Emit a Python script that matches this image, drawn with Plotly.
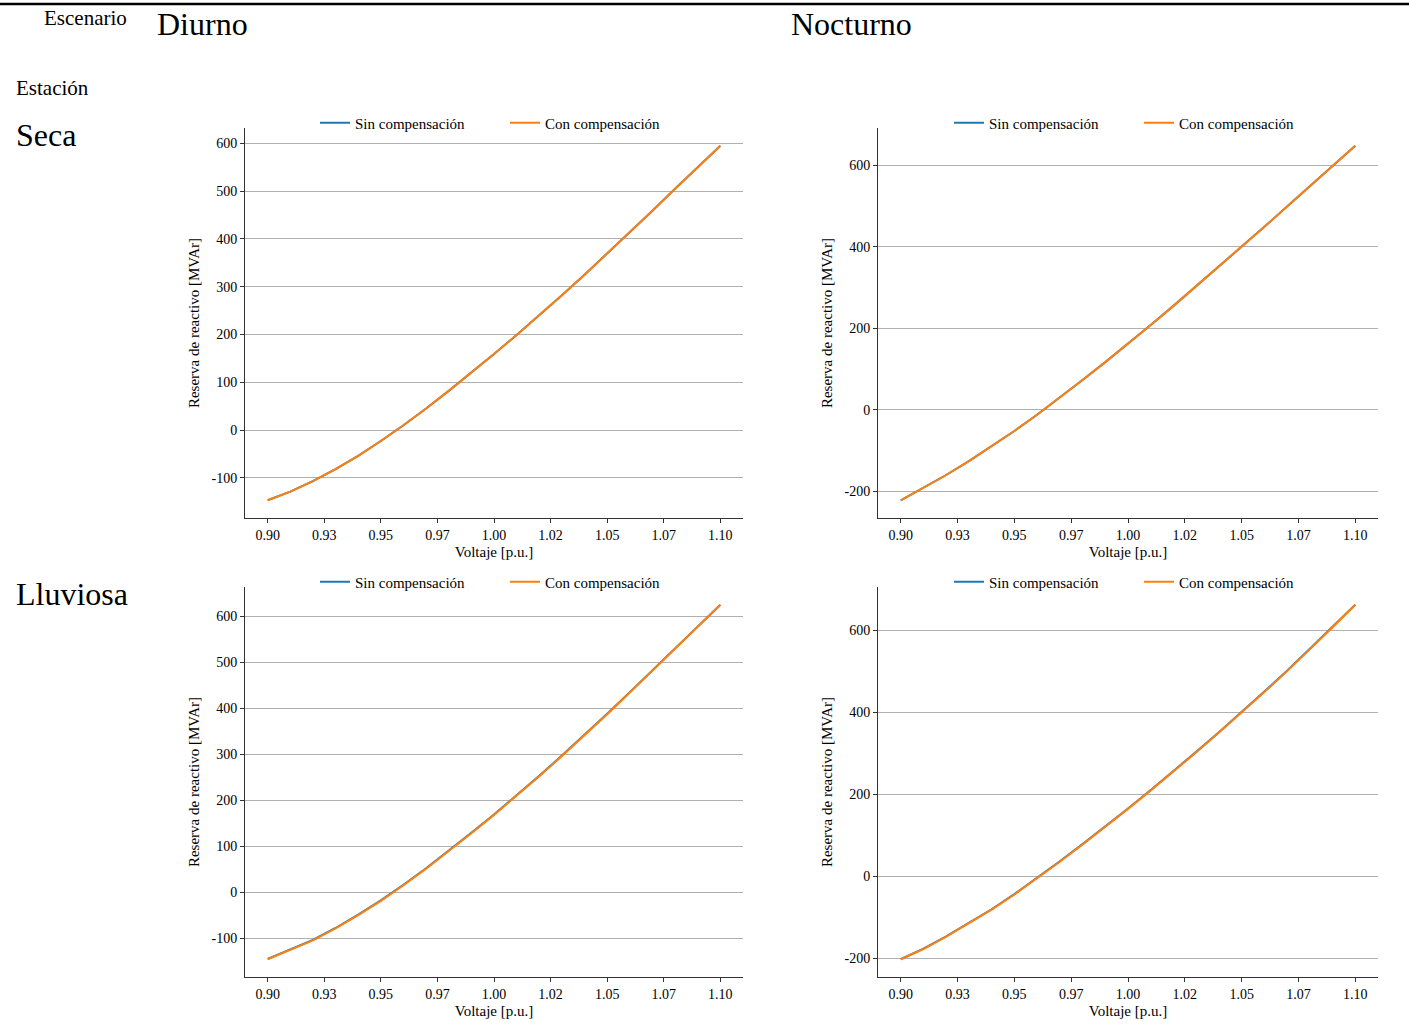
import math
import plotly.graph_objects as go

# ---------------- data ----------------
voltaje = [0.90, 0.91, 0.92, 0.93, 0.94, 0.95, 0.96, 0.97, 0.98, 0.99, 1.00,
           1.01, 1.02, 1.03, 1.04, 1.05, 1.06, 1.07, 1.08, 1.09, 1.10]

xtick_vals = [0.9, 0.925, 0.95, 0.975, 1.0, 1.025, 1.05, 1.075, 1.1]
xtick_text = ["0.90", "0.93", "0.95", "0.97", "1.00", "1.02", "1.05", "1.07", "1.10"]

# Diurno - Seca
seca_diurno_con = [-147, -129, -107, -82, -54, -23, 10, 45, 82, 120, 159,
                   199, 240, 282, 325, 369, 414, 459, 505, 550, 595]
seca_diurno_sin = [-147, -129, -107, -82, -54, -23, 10, 45, 82, 120, 159,
                   199, 240, 282, 325, 369, 414, 459, 505, 550, 595]
# Nocturno - Seca
seca_nocturno_con = [-222, -192, -160, -126, -90, -52, -12, 30, 73, 117, 162,
                     208, 255, 303, 351, 400, 449, 499, 549, 599, 648]
seca_nocturno_sin = [-222, -192, -160, -126, -90, -52, -12, 30, 73, 117, 162,
                     208, 255, 303, 351, 400, 449, 499, 549, 599, 648]
# Diurno - Lluviosa
lluv_diurno_con = [-146, -126, -105, -79, -50, -19, 15, 51, 89, 128, 168,
                   209, 252, 296, 341, 387, 434, 482, 530, 578, 625]
lluv_diurno_sin = [-145, -125, -104, -78, -49, -18, 16, 52, 90, 129, 169,
                   210, 253, 297, 342, 388, 435, 483, 531, 578, 625]
# Nocturno - Lluviosa
lluv_nocturno_con = [-203, -178, -148, -116, -82, -45, -6, 35, 77, 120, 164,
                     209, 255, 302, 350, 399, 449, 500, 553, 607, 662]
lluv_nocturno_sin = [-203, -177, -147, -115, -81, -44, -5, 36, 78, 121, 165,
                     210, 256, 303, 351, 400, 450, 501, 554, 607, 662]

y_dticks = [100, 200, 100, 200]
series_names = ["Sin compensación", "Con compensación"]
col_titles = ["Diurno", "Nocturno"]
row_titles = ["Seca", "Lluviosa"]

# ---------------- layout ----------------
W, H = 1409, 1026
FONT = "Liberation Serif, Times New Roman, serif"
BLUE, ORANGE = "#1f77b4", "#ff7f0e"

panels = [
    (seca_diurno_sin, seca_diurno_con, (245, 743), (128, 518)),
    (seca_nocturno_sin, seca_nocturno_con, (878, 1378), (128, 518)),
    (lluv_diurno_sin, lluv_diurno_con, (245, 743), (587, 977)),
    (lluv_nocturno_sin, lluv_nocturno_con, (878, 1378), (587, 977)),
]

fig = go.Figure()
layout = dict(width=W, height=H, margin=dict(l=0, r=0, t=0, b=0),
              paper_bgcolor="white", plot_bgcolor="white",
              font=dict(family=FONT, color="black"))

for i, (sin, con, (px0, px1), (py0, py1)) in enumerate(panels):
    n = i + 1
    xa = "x" if n == 1 else f"x{n}"
    ya = "y" if n == 1 else f"y{n}"
    lg = "legend" if n == 1 else f"legend{n}"
    fig.add_trace(go.Scatter(x=voltaje, y=sin, mode="lines", name=series_names[0],
                             line=dict(color=BLUE, width=2), xaxis=xa, yaxis=ya, legend=lg))
    fig.add_trace(go.Scatter(x=voltaje, y=con, mode="lines", name=series_names[1],
                             line=dict(color=ORANGE, width=2), xaxis=xa, yaxis=ya, legend=lg))

    allv = sin + con
    lo, hi = min(allv), max(allv)
    pad = 0.05 * (hi - lo)
    yr = [lo - pad, hi + pad]
    xpad = 0.05 * (max(voltaje) - min(voltaje))
    xr = [min(voltaje) - xpad, max(voltaje) + xpad]
    dt = y_dticks[i]
    yt = list(range(int(math.ceil(yr[0] / dt) * dt), int(hi + pad) + 1, dt))

    xkey = "xaxis" if n == 1 else f"xaxis{n}"
    ykey = "yaxis" if n == 1 else f"yaxis{n}"
    layout[xkey] = dict(domain=[px0 / W, px1 / W], anchor=ya, range=xr,
                        tickmode="array", tickvals=xtick_vals, ticktext=xtick_text,
                        showgrid=False, zeroline=False, showline=True,
                        linecolor="#333", linewidth=1, ticks="outside", ticklen=4,
                        tickcolor="#333", tickfont=dict(size=14, family=FONT),
                        title=dict(text="Voltaje [p.u.]", font=dict(size=15, family=FONT), standoff=4))
    layout[ykey] = dict(domain=[1 - py1 / H, 1 - py0 / H], anchor=xa, range=yr,
                        tickmode="array", tickvals=yt, ticktext=[str(v) for v in yt],
                        showgrid=True, gridcolor="#b0b0b0", gridwidth=1,
                        zeroline=False, showline=True, linecolor="#333", linewidth=1,
                        ticks="outside", ticklen=4, tickcolor="#333",
                        tickfont=dict(size=14, family=FONT),
                        title=dict(text="Reserva de reactivo [MVAr]",
                                   font=dict(size=15, family=FONT), standoff=8))
    layout[lg] = dict(orientation="h", x=((px0 + px1) / 2 + 11) / W, xanchor="center",
                      y=1 - (py0 - 5) / H, yanchor="middle",
                      bgcolor="rgba(0,0,0,0)", entrywidth=145, entrywidthmode="pixels",
                      font=dict(size=15, family=FONT))

fig.update_layout(**layout)

anns = [
    dict(text="Escenario", x=42 / W, y=1 - 18 / H, size=21),
    dict(text=col_titles[0], x=155 / W, y=1 - 24 / H, size=32),
    dict(text=col_titles[1], x=789 / W, y=1 - 24 / H, size=32),
    dict(text="Estación", x=14 / W, y=1 - 88 / H, size=21),
    dict(text=row_titles[0], x=14 / W, y=1 - 135 / H, size=32),
    dict(text=row_titles[1], x=14 / W, y=1 - 594 / H, size=32),
]
for a in anns:
    fig.add_annotation(text=a["text"], x=a["x"], y=a["y"], xref="paper", yref="paper",
                       xanchor="left", yanchor="middle", showarrow=False,
                       font=dict(size=a["size"], family=FONT, color="black"))

fig.add_shape(type="line", xref="paper", yref="paper", x0=0, x1=1,
              y0=1 - 4 / H, y1=1 - 4 / H, line=dict(color="black", width=2.5))

fig.write_html("out.html", config={"displayModeBar": False})

# remove default page margin so the figure sits at the window origin
with open("out.html", "r", encoding="utf-8") as f:
    html = f.read()
html = html.replace("<head>", "<head><style>html,body{margin:0;padding:0;overflow:hidden;}</style>", 1)
with open("out.html", "w", encoding="utf-8") as f:
    f.write(html)
